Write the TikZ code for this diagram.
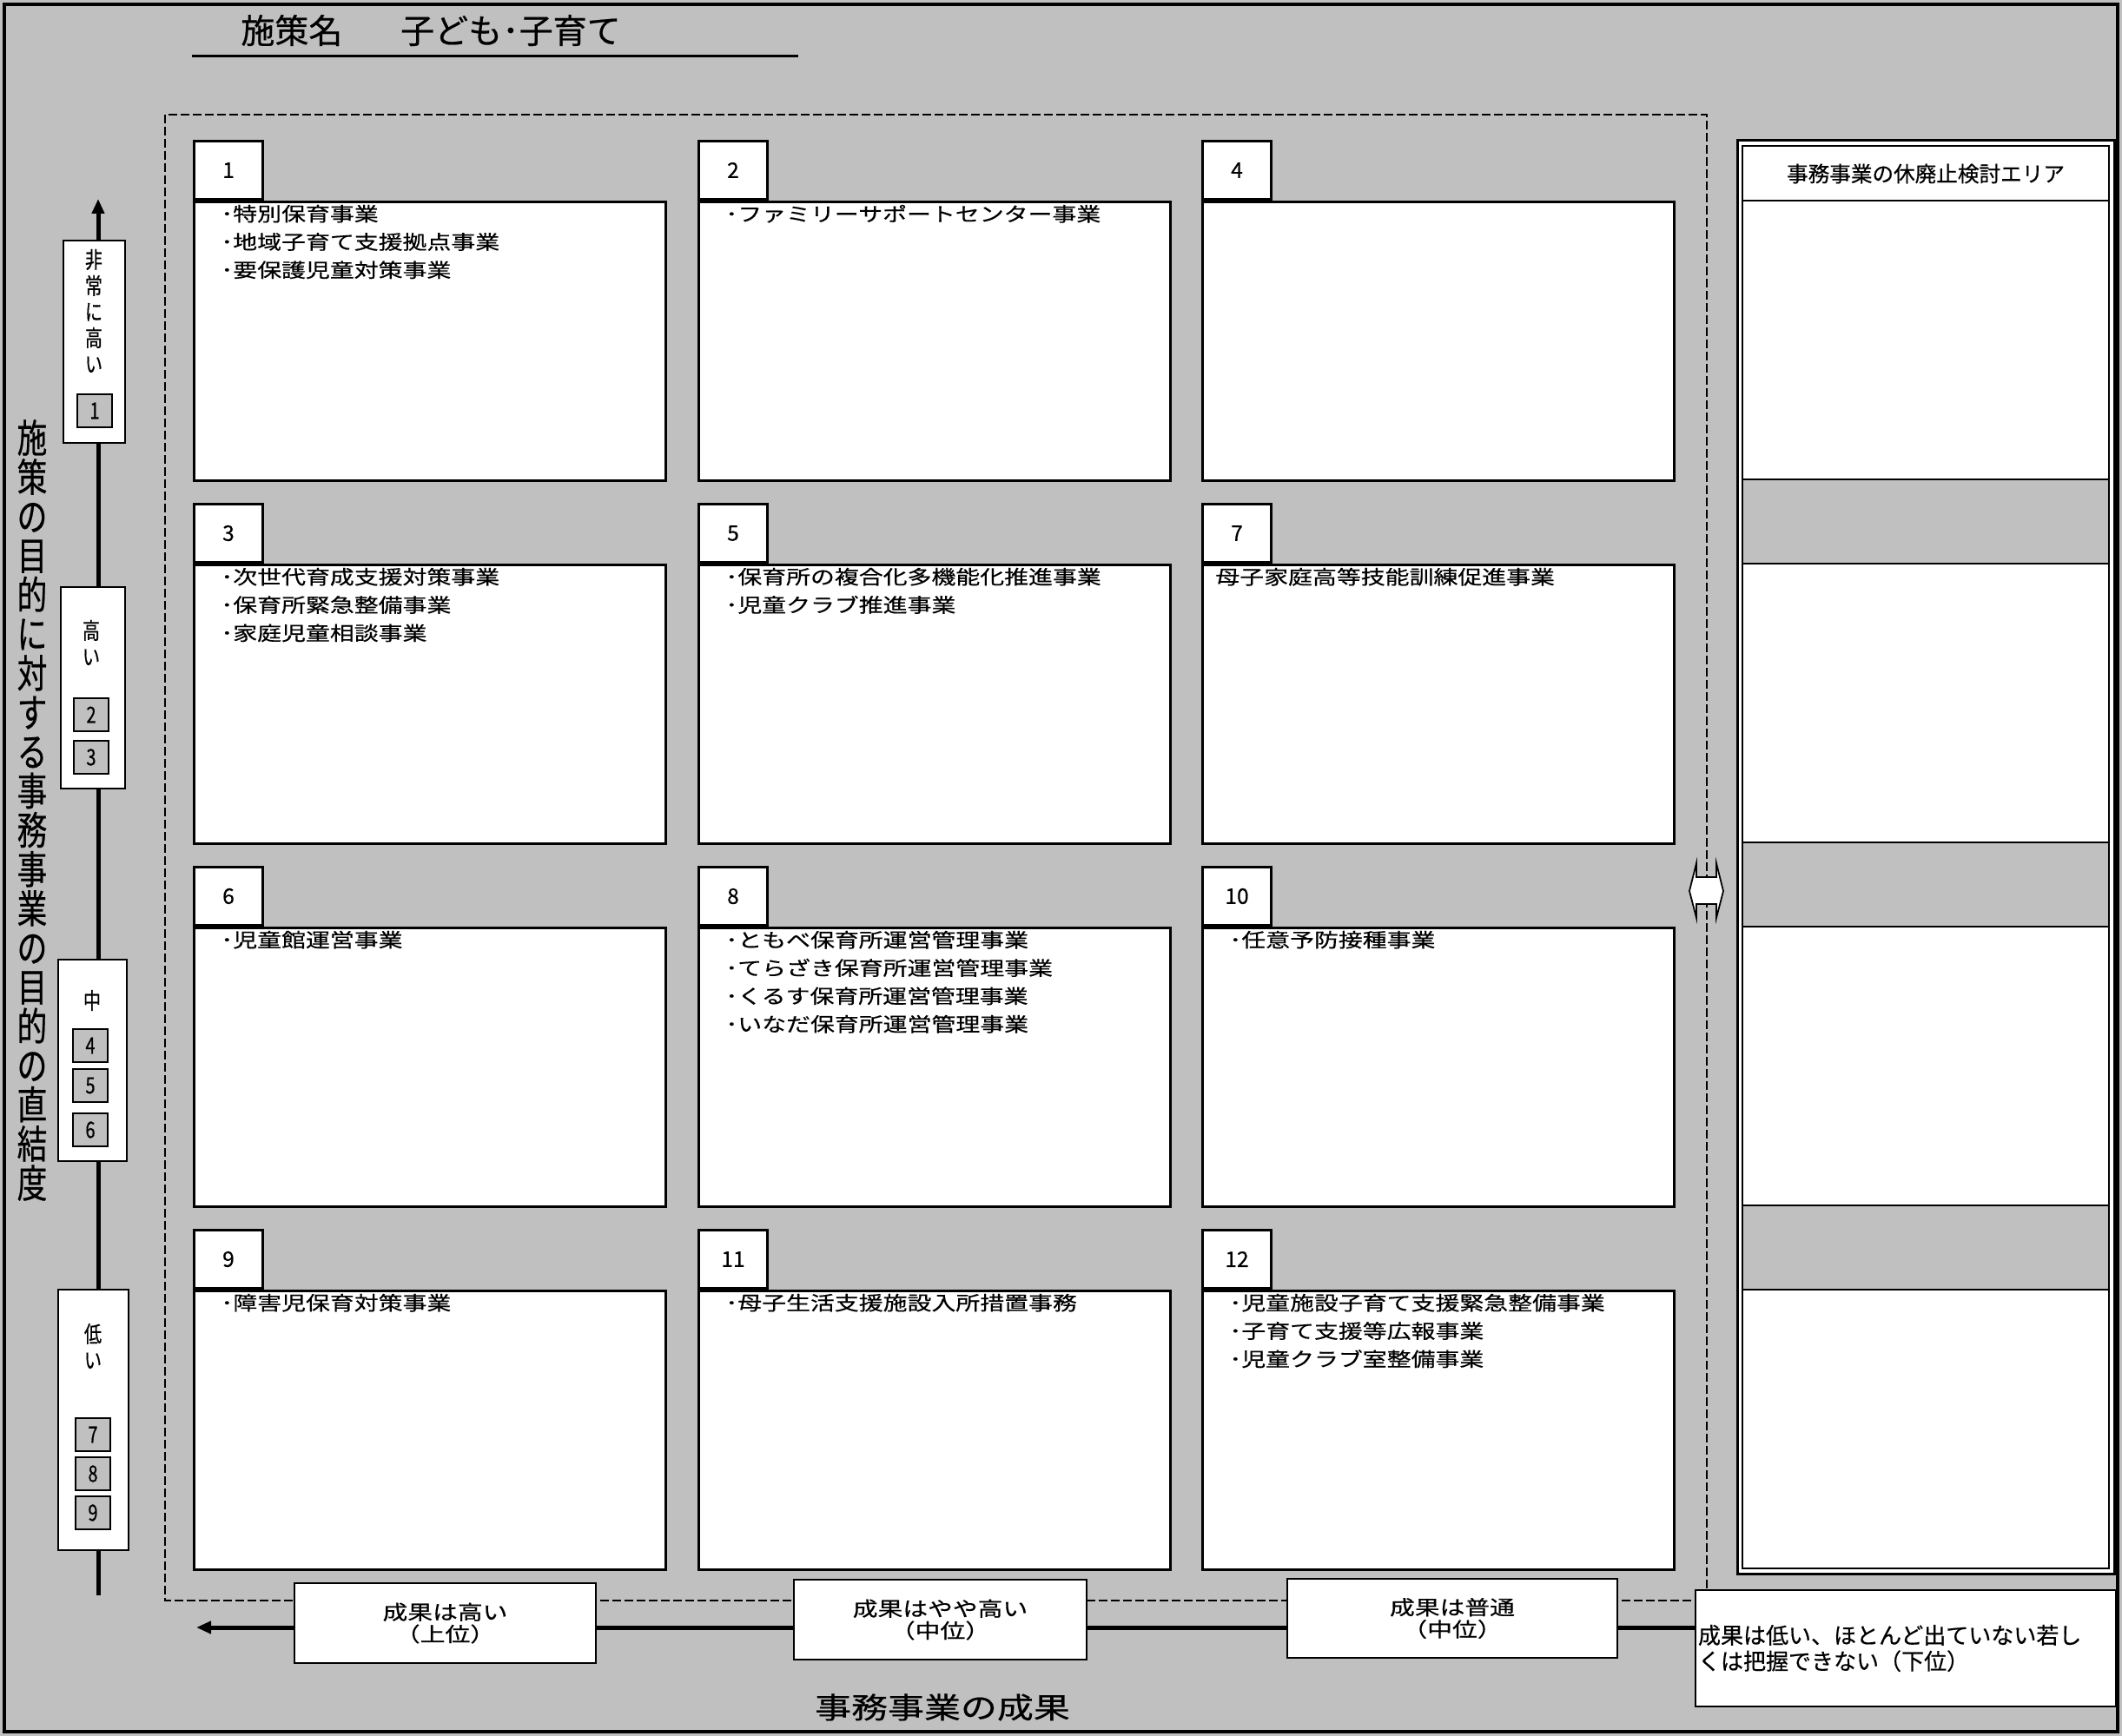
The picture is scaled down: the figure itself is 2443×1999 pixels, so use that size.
\documentclass[tikz,border=0pt]{standalone}
\usepackage{fontspec}
\setmainfont{Noto Sans CJK JP}[FakeBold=0.5]
\newfontfamily\widefont{Noto Sans CJK JP}[FakeStretch=1.25,FakeBold=0.5]
\newfontfamily\tallfont{Noto Sans CJK JP}[FakeStretch=0.77,FakeBold=0.5]
\usetikzlibrary{arrows.meta,positioning}
\definecolor{bggray}{HTML}{C0C0C0}

\begin{document}
\begin{tikzpicture}[x=0.2mm,y=-0.2mm,bodybox/.style={draw,line width=0.6mm,fill=white,anchor=north west,minimum width=108.6mm,minimum height=64.2mm,inner sep=0pt},tabbox/.style={draw,line width=0.6mm,fill=white,minimum width=15.8mm,minimum height=13.4mm,inner sep=0pt,font=\fontsize{14pt}{16pt}\selectfont},itemlist/.style={align=left,inner sep=0pt,font=\widefont\fontsize{12.7pt}{18.4pt}\selectfont},lvbox/.style={draw,fill=white,line width=0.4mm,inner sep=0pt},lvtext/.style={align=center,inner sep=0pt,font=\tallfont\fontsize{14.8pt}{17.1pt}\selectfont},numbox/.style={draw,fill=bggray,line width=0.3mm,minimum width=8mm,minimum height=7.6mm,inner sep=0pt,font=\tallfont\fontsize{14.8pt}{16pt}\selectfont},outbox/.style={draw,fill=white,line width=0.35mm,inner sep=0pt,align=center,font=\widefont\fontsize{13.1pt}{14.4pt}\selectfont},axisarrow/.style={line width=1mm,-{Triangle[width=2.8mm,length=3.4mm]}},bandbox/.style={draw,line width=0.5mm,fill=bggray}]
\useasboundingbox (0,0) rectangle (2443,1999);
\fill[bggray] (0,0) rectangle (2443,1999);
\draw[line width=0.9mm] (5,5) rectangle (2438,1994);
\node[font=\fontsize{22.2pt}{24pt}\selectfont,anchor=west,inner sep=0pt] (title) at (277,35){施策名\hspace{38pt}子ども･子育て};
\draw[line width=0.6mm] (221,65) -- (919,65);
\draw[line width=0.5mm,dash pattern=on 2mm off 0.8mm] (190,132) rectangle (1965,1843);
\node[bodybox] (b1) at (222,231){}; \node[tabbox,above right=0mm and 0mm of b1.north west] (t1){1};
\node[bodybox] (b2) at (803,231){}; \node[tabbox,above right=0mm and 0mm of b2.north west] (t2){2};
\node[bodybox] (b4) at (1383,231){}; \node[tabbox,above right=0mm and 0mm of b4.north west] (t4){4};
\node[bodybox] (b3) at (222,649){}; \node[tabbox,above right=0mm and 0mm of b3.north west] (t3){3};
\node[bodybox] (b5) at (803,649){}; \node[tabbox,above right=0mm and 0mm of b5.north west] (t5){5};
\node[bodybox] (b7) at (1383,649){}; \node[tabbox,above right=0mm and 0mm of b7.north west] (t7){7};
\node[bodybox] (b6) at (222,1067){}; \node[tabbox,above right=0mm and 0mm of b6.north west] (t6){6};
\node[bodybox] (b8) at (803,1067){}; \node[tabbox,above right=0mm and 0mm of b8.north west] (t8){8};
\node[bodybox] (b10) at (1383,1067){}; \node[tabbox,above right=0mm and 0mm of b10.north west] (t10){10};
\node[bodybox] (b9) at (222,1485){}; \node[tabbox,above right=0mm and 0mm of b9.north west] (t9){9};
\node[bodybox] (b11) at (803,1485){}; \node[tabbox,above right=0mm and 0mm of b11.north west] (t11){11};
\node[bodybox] (b12) at (1383,1485){}; \node[tabbox,above right=0mm and 0mm of b12.north west] (t12){12};
\node[itemlist,below right=0.9mm and 6.4mm of b1.north west] (i1){･特別保育事業\\･地域子育て支援拠点事業\\･要保護児童対策事業};
\node[itemlist,below right=0.9mm and 6.4mm of b2.north west] (i2){･ファミリーサポートセンター事業};
\node[itemlist,below right=0.9mm and 6.4mm of b3.north west] (i3){･次世代育成支援対策事業\\･保育所緊急整備事業\\･家庭児童相談事業};
\node[itemlist,below right=0.9mm and 6.4mm of b5.north west] (i5){･保育所の複合化多機能化推進事業\\･児童クラブ推進事業};
\node[itemlist,below right=0.9mm and 3.2mm of b7.north west] (i7){母子家庭高等技能訓練促進事業};
\node[itemlist,below right=0.9mm and 6.4mm of b6.north west] (i6){･児童館運営事業};
\node[itemlist,below right=0.9mm and 6.4mm of b8.north west] (i8){･ともべ保育所運営管理事業\\･てらざき保育所運営管理事業\\･くるす保育所運営管理事業\\･いなだ保育所運営管理事業};
\node[itemlist,below right=0.9mm and 6.4mm of b10.north west] (i10){･任意予防接種事業};
\node[itemlist,below right=0.9mm and 6.4mm of b9.north west] (i9){･障害児保育対策事業};
\node[itemlist,below right=0.9mm and 6.4mm of b11.north west] (i11){･母子生活支援施設入所措置事務};
\node[itemlist,below right=0.9mm and 6.4mm of b12.north west] (i12){･児童施設子育て支援緊急整備事業\\･子育て支援等広報事業\\･児童クラブ室整備事業};
\draw[line width=0.6mm,fill=white] (2000,162) rectangle (2434,1812);
\draw[line width=0.5mm] (2006,168) rectangle (2428,1806);
\node[font=\fontsize{14pt}{16pt}\selectfont] (area) at (2217,200){事務事業の休廃止検討エリア};
\draw[line width=0.5mm] (2006,231) -- (2428,231);
\draw[bandbox] (2006,552) rectangle (2428,649);
\draw[bandbox] (2006,970) rectangle (2428,1067);
\draw[bandbox] (2006,1388) rectangle (2428,1485);
\draw[line width=0.35mm,fill=white] (1953,994) -- (1945,1026) -- (1953,1057) -- (1953,1041) -- (1976,1041) -- (1976,1057) -- (1984,1026) -- (1976,994) -- (1976,1010) -- (1953,1010) -- cycle;
\coordinate (ytop) at (113,229); \coordinate (ybot) at (113,1837);
\draw[axisarrow] (ybot) -- (ytop);
\node[lvbox,minimum width=14.2mm,minimum height=46.6mm] (lv1) at (108.5,393.5){};
\node[lvbox,minimum width=14.8mm,minimum height=46.4mm] (lv2) at (107,792){};
\node[lvbox,minimum width=15.8mm,minimum height=46.4mm] (lv3) at (106.5,1221){};
\node[lvbox,minimum width=16.2mm,minimum height=60mm] (lv4) at (107.5,1635){};
\node[lvtext] (lt1) at (108,358){非\\常\\に\\高\\い};
\node[lvtext] (lt2) at (105,740){高\\い};
\node[lvtext] (lt3) at (106,1152){中};
\node[lvtext] (lt4) at (107,1550){低\\い};
\node[numbox] (n1) at (109,473){1};
\node[numbox] (n2) at (105,823){2};
\node[numbox] (n3) at (105,872){3};
\node[numbox] (n4) at (104,1204){4};
\node[numbox] (n5) at (104,1250){5};
\node[numbox] (n6) at (104,1301){6};
\node[numbox] (n7) at (107,1652){7};
\node[numbox] (n8) at (107,1697){8};
\node[numbox] (n9) at (107,1742){9};
\node[font=\tallfont\fontsize{25.6pt}{25.7pt}\selectfont,align=center,inner sep=0pt] (ylabel) at (37,933){施\\策\\の\\目\\的\\に\\対\\す\\る\\事\\務\\事\\業\\の\\目\\的\\の\\直\\結\\度};
\coordinate (xstart) at (1952,1874); \coordinate (xend) at (226,1874);
\draw[axisarrow] (xstart) -- (xend);
\node[outbox,minimum width=69.4mm,minimum height=18.4mm] (o1) at (512.5,1869){成果は高い\\（上位）};
\node[outbox,minimum width=67.4mm,minimum height=18.4mm] (o2) at (1082.5,1865){成果はやや高い\\（中位）};
\node[outbox,minimum width=76mm,minimum height=18.2mm] (o3) at (1672,1863.5){成果は普通\\（中位）};
\node[draw,fill=white,line width=0.35mm,inner xsep=0.6mm,inner ysep=0pt,text width=95.6mm,minimum height=26.8mm,align=left,font=\fontsize{14.8pt}{17pt}\selectfont] (o4) at (2194,1898){成果は低い、ほとんど出ていない若し\\くは把握できない（下位）};
\node[font=\widefont\fontsize{19.1pt}{21pt}\selectfont] (xlabel) at (1085,1966){事務事業の成果};
\end{tikzpicture}
\end{document}
